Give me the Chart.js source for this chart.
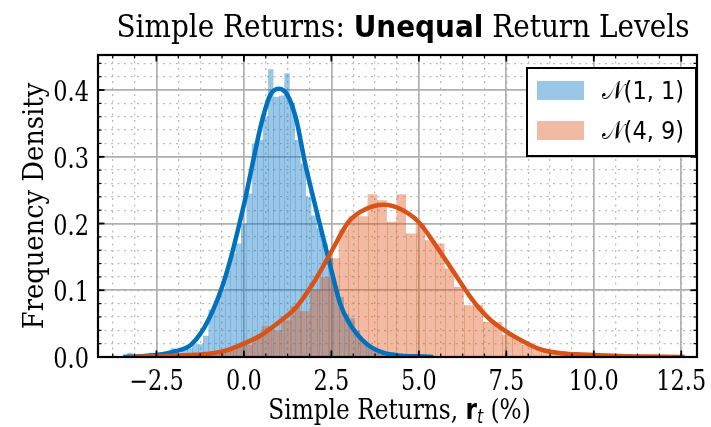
<!DOCTYPE html>
<html>
<head>
<meta charset="utf-8">
<script src="https://cdn.jsdelivr.net/npm/chart.js@4.4.0/dist/chart.umd.min.js"></script>
<style>
  html, body { margin: 0; padding: 0; background: #ffffff; }
</style>
</head>
<body>
<canvas id="returnsChart" width="711" height="427"></canvas>
<script>
// axis ranges and ticks
const xLimits = [-4.17, 12.95];
const yLimits = [0, 0.4525];
const xTicks = [-2.5, 0, 2.5, 5, 7.5, 10, 12.5];
const yTicks = [0, 0.1, 0.2, 0.3, 0.4];
const xMinorStep = 0.625;
const yMinorStep = 0.02;

// histogram of N(1,1) sample (density per bin)
const blueBinStart = -3.34;
const blueBinWidth = 0.155;
const blueHeights = [
  0.0065, 0, 0, 0, 0.0065, 0, 0.0065, 0.0065, 0.013, 0.0065,
  0.013, 0.013, 0.019, 0.019, 0.032, 0.071, 0.084, 0.10, 0.129, 0.155,
  0.17, 0.20, 0.245, 0.32, 0.325, 0.36, 0.431, 0.39, 0.392, 0.425,
  0.381, 0.325, 0.29, 0.24, 0.212, 0.193, 0.17, 0.148, 0.107, 0.09,
  0.064, 0.058, 0.039, 0.026, 0.019, 0.013, 0.0065, 0.0065, 0, 0.0065
];

// histogram of N(4,9) sample
const orangeBinStart = -2.515;
const orangeBinWidth = 0.275;
const orangeHeights = [
  0.0036, 0, 0.0036, 0, 0.0036, 0.0073, 0.0073, 0.0109, 0.0145, 0.018,
  0.029, 0.047, 0.040, 0.055, 0.076, 0.069, 0.10, 0.12, 0.148, 0.191,
  0.211, 0.211, 0.244, 0.235, 0.2025, 0.244, 0.185, 0.20, 0.175, 0.17,
  0.1325, 0.105, 0.0775, 0.0775, 0.0525, 0.0525, 0.033, 0.029, 0.018, 0.0145,
  0.0073, 0.0073, 0.0036, 0.0036, 0, 0.0036, 0, 0, 0, 0.0036
];

// kernel density curves
const blueKdeX = [-3.45, -3.0, -2.5, -2.0, -1.5, -1.0, -0.5, 0.0, 0.25, 0.5, 0.75, 1.0, 1.25, 1.5, 1.75, 2.0, 2.25, 2.5, 2.75, 3.0, 3.5, 4.0, 4.5, 5.0, 5.41];
const blueKdeY = [0.0, 0.001, 0.003, 0.008, 0.019, 0.057, 0.125, 0.228, 0.29, 0.35, 0.392, 0.402, 0.392, 0.355, 0.29, 0.235, 0.182, 0.13, 0.08, 0.052, 0.02, 0.006, 0.002, 0.001, 0.0];

const orangeKdeX = [-3.26, -2.5, -2.0, -1.5, -1.0, -0.5, 0.0, 0.5, 1.0, 1.5, 2.0, 2.5, 3.0, 3.5, 4.0, 4.5, 5.0, 5.5, 6.0, 6.5, 7.0, 7.5, 8.0, 8.5, 9.0, 9.5, 10.0, 11.0, 12.0, 12.6];
const orangeKdeY = [0.0, 0.001, 0.002, 0.003, 0.005, 0.01, 0.02, 0.033, 0.052, 0.075, 0.112, 0.158, 0.203, 0.222, 0.228, 0.221, 0.202, 0.166, 0.127, 0.088, 0.058, 0.038, 0.023, 0.011, 0.006, 0.004, 0.003, 0.001, 0.0005, 0.0];

const seriesLabels = ['\u{1D4A9}(1, 1)', '\u{1D4A9}(4, 9)'];

const blueLine = '#0072BD';
const orangeLine = '#D95319';
const blueFill = 'rgba(0, 114, 189, 0.4)';
const orangeFill = 'rgba(217, 83, 25, 0.4)';
const blueEdge = 'rgba(0, 114, 189, 0.22)';
const orangeEdge = 'rgba(217, 83, 25, 0.3)';

const SERIF = '"DejaVu Serif", serif';
const SANS = '"DejaVu Sans", sans-serif';
const SX = 0.83; // text in the figure is narrow

/*********************************************/

function histPoints(start, width, heights) {
  const pts = heights.map((h, i) => ({ x: start + i * width, y: h }));
  pts.push({ x: start + heights.length * width, y: 0 });
  return pts;
}

function curvePoints(xs, ys) {
  return xs.map((x, i) => ({ x: x, y: ys[i] }));
}

function minorValues(lo, hi, step) {
  const vals = [];
  for (let v = Math.ceil(lo / step) * step; v <= hi + 1e-9; v += step) {
    vals.push({ value: Math.round(v * 1000) / 1000 });
  }
  return vals;
}

// draw a row of text pieces with different fonts, squeezed horizontally
function drawRuns(ctx, runs, x, y, align, sx) {
  sx = sx || SX;
  ctx.save();
  ctx.textBaseline = 'alphabetic';
  ctx.textAlign = 'left';
  let total = 0;
  runs.forEach(r => {
    ctx.font = r.font;
    r.w = ctx.measureText(r.text).width * sx;
    total += r.w;
  });
  let cx = align === 'center' ? x - total / 2 : align === 'right' ? x - total : x;
  runs.forEach(r => {
    ctx.save();
    ctx.font = r.font;
    ctx.translate(cx, y + (r.dy || 0));
    ctx.scale(sx, 1);
    ctx.fillStyle = '#000';
    ctx.fillText(r.text, 0, 0);
    ctx.restore();
    cx += r.w;
  });
  ctx.restore();
}

const decorations = {
  id: 'decorations',
  // thin bin edges inside the histograms
  afterDatasetDraw(chart, args) {
    if (args.index > 1) return;
    const pts = chart.data.datasets[args.index].data;
    const xs = chart.scales.x, ys = chart.scales.y;
    const ctx = chart.ctx;
    const area = chart.chartArea;
    ctx.save();
    ctx.beginPath();
    ctx.rect(area.left, area.top, area.right - area.left, area.bottom - area.top);
    ctx.clip();
    ctx.strokeStyle = args.index === 0 ? blueEdge : orangeEdge;
    ctx.lineWidth = 1;
    for (let i = 1; i < pts.length - 1; i++) {
      const h = Math.min(pts[i - 1].y, pts[i].y);
      if (h <= 0) continue;
      const px = Math.round(xs.getPixelForValue(pts[i].x)) + 0.5;
      ctx.beginPath();
      ctx.moveTo(px, ys.getPixelForValue(0));
      ctx.lineTo(px, ys.getPixelForValue(h));
      ctx.stroke();
    }
    ctx.restore();
  },
  afterDraw(chart) {
    const ctx = chart.ctx;
    const area = chart.chartArea;
    const xs = chart.scales.x, ys = chart.scales.y;

    // inward tick marks on all four sides
    ctx.save();
    ctx.strokeStyle = '#000';
    const tick = (x1, y1, x2, y2, w) => {
      ctx.lineWidth = w;
      ctx.beginPath(); ctx.moveTo(x1, y1); ctx.lineTo(x2, y2); ctx.stroke();
    };
    chart.scales.xMinor.ticks.forEach(t => {
      const px = xs.getPixelForValue(t.value);
      tick(px, area.bottom, px, area.bottom - 3.5, 1.2);
      tick(px, area.top, px, area.top + 3.5, 1.2);
    });
    chart.scales.yMinor.ticks.forEach(t => {
      const py = ys.getPixelForValue(t.value);
      tick(area.left, py, area.left + 3.5, py, 1.2);
      tick(area.right, py, area.right - 3.5, py, 1.2);
    });
    xs.ticks.forEach(t => {
      const px = xs.getPixelForValue(t.value);
      tick(px, area.bottom, px, area.bottom - 6.5, 1.8);
      tick(px, area.top, px, area.top + 6.5, 1.8);
    });
    ys.ticks.forEach(t => {
      const py = ys.getPixelForValue(t.value);
      tick(area.left, py, area.left + 6.5, py, 1.8);
      tick(area.right, py, area.right - 6.5, py, 1.8);
    });
    // frame
    ctx.lineWidth = 2.2;
    ctx.strokeRect(area.left, area.top, area.right - area.left, area.bottom - area.top);
    ctx.restore();

    // tick labels
    xs.ticks.forEach(t => {
      const px = xs.getPixelForValue(t.value);
      const txt = t.value.toFixed(1).replace('-', '\u2212');
      drawRuns(ctx, [{ text: txt, font: '27px ' + SERIF }], px, area.bottom + 33, 'center');
    });
    ys.ticks.forEach(t => {
      const py = ys.getPixelForValue(t.value);
      drawRuns(ctx, [{ text: t.value.toFixed(1), font: '27px ' + SERIF }], area.left - 9, py + 11, 'right');
    });

    // title
    drawRuns(ctx, [
      { text: 'Simple Returns: ', font: '31px ' + SERIF },
      { text: 'Unequal', font: 'bold 31px ' + SANS },
      { text: ' Return Levels', font: '31px ' + SERIF }
    ], 403, 37, 'center', 0.9);

    // x axis title
    drawRuns(ctx, [
      { text: 'Simple Returns, ', font: '28px ' + SERIF },
      { text: 'r', font: 'bold 28px ' + SANS },
      { text: 't', font: 'italic 19px ' + SANS, dy: 4 },
      { text: ' (%)', font: '28px ' + SERIF }
    ], (area.left + area.right) / 2 + 2, 419, 'center');

    // y axis title
    ctx.save();
    ctx.translate(43, (area.top + area.bottom) / 2);
    ctx.rotate(-Math.PI / 2);
    drawRuns(ctx, [{ text: 'Frequency Density', font: '28px ' + SERIF }], 0, 0, 'center', 0.92);
    ctx.restore();

    // legend
    const box = { left: 527, top: 68, right: 696, bottom: 156 };
    ctx.save();
    ctx.fillStyle = '#fff';
    ctx.fillRect(box.left, box.top, box.right - box.left, box.bottom - box.top);
    ctx.lineWidth = 2;
    ctx.strokeStyle = '#000';
    ctx.strokeRect(box.left, box.top, box.right - box.left, box.bottom - box.top);
    [blueFill, orangeFill].forEach((c, i) => {
      ctx.fillStyle = c;
      ctx.fillRect(537, 81 + i * 40, 47, 19);
      drawRuns(ctx, [
        { text: chart.data.datasets[i].label, font: '25px ' + SANS }
      ], 602, 99 + i * 40, 'left', 0.9);
    });
    ctx.restore();
  }
};

/*********************************************/

function returnsChart() {
  const data = {
    datasets: [
      {
        label: seriesLabels[0],
        data: histPoints(blueBinStart, blueBinWidth, blueHeights),
        stepped: true,
        fill: 'origin',
        backgroundColor: blueFill,
        borderColor: 'transparent',
        borderWidth: 0,
        pointRadius: 0,
        order: 3
      },
      {
        label: seriesLabels[1],
        data: histPoints(orangeBinStart, orangeBinWidth, orangeHeights),
        stepped: true,
        fill: 'origin',
        backgroundColor: orangeFill,
        borderColor: 'transparent',
        borderWidth: 0,
        pointRadius: 0,
        order: 2
      },
      {
        label: 'kde 1',
        data: curvePoints(blueKdeX, blueKdeY),
        borderColor: blueLine,
        borderWidth: 4.5,
        pointRadius: 0,
        cubicInterpolationMode: 'monotone',
        fill: false,
        order: 1
      },
      {
        label: 'kde 2',
        data: curvePoints(orangeKdeX, orangeKdeY),
        borderColor: orangeLine,
        borderWidth: 4.5,
        pointRadius: 0,
        cubicInterpolationMode: 'monotone',
        fill: false,
        order: 0
      }
    ]
  };

  const hiddenTicks = { display: false };
  const options = {
    responsive: false,
    animation: false,
    layout: { padding: { left: 98, right: 14, top: 55, bottom: 70 } },
    scales: {
      xMinor: {
        type: 'linear', position: 'bottom', min: xLimits[0], max: xLimits[1],
        ticks: hiddenTicks,
        afterBuildTicks: axis => { axis.ticks = minorValues(xLimits[0], xLimits[1], xMinorStep); },
        grid: { color: '#bdbdbd', lineWidth: 1.3, drawTicks: false },
        border: { display: false, dash: [2, 4.5] }
      },
      yMinor: {
        type: 'linear', position: 'left', min: yLimits[0], max: yLimits[1],
        ticks: hiddenTicks,
        afterBuildTicks: axis => { axis.ticks = minorValues(yLimits[0] + yMinorStep, yLimits[1], yMinorStep); },
        grid: { color: '#bdbdbd', lineWidth: 1.3, drawTicks: false },
        border: { display: false, dash: [2, 4.5] }
      },
      x: {
        type: 'linear', position: 'bottom', min: xLimits[0], max: xLimits[1],
        ticks: hiddenTicks,
        afterBuildTicks: axis => { axis.ticks = xTicks.map(v => ({ value: v })); },
        grid: { color: '#b0b0b0', lineWidth: 1.7, drawTicks: false },
        border: { display: false }
      },
      y: {
        type: 'linear', position: 'left', min: yLimits[0], max: yLimits[1],
        ticks: hiddenTicks,
        afterBuildTicks: axis => { axis.ticks = yTicks.map(v => ({ value: v })); },
        grid: { color: '#b0b0b0', lineWidth: 1.7, drawTicks: false },
        border: { display: false }
      }
    },
    plugins: {
      legend: { display: false },
      tooltip: { enabled: false },
      title: { display: false }
    }
  };

  const config = {
    type: 'line',
    data,
    options,
    plugins: [decorations]
  };

  return new Chart(document.getElementById('returnsChart'), config);
}

returnsChart();
</script>
</body>
</html>
